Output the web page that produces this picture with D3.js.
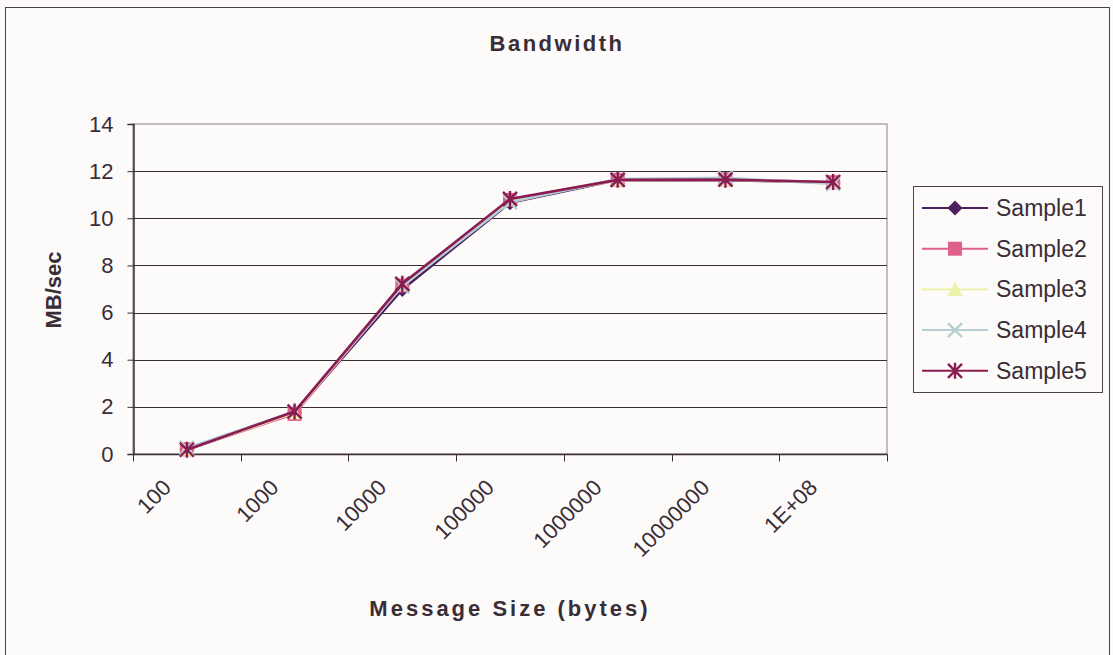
<!DOCTYPE html>
<html>
<head>
<meta charset="utf-8">
<script src="https://cdn.jsdelivr.net/npm/d3@7"></script>
<style>
  html, body { margin: 0; padding: 0; background: #fcfbfa; }
  svg { display: block; font-family: "Liberation Sans", Arial, sans-serif; }
</style>
</head>
<body>
<svg id="chart" width="1113" height="655"></svg>
<script>
// Message sizes (category labels) and measured bandwidth per sample run
const categories = ["100", "1000", "10000", "100000", "1000000", "10000000", "1E+08"];
const sample1 = [0.18, 1.76, 6.98, 10.66, 11.62, 11.62, 11.52];
const sample2 = [0.20, 1.70, 7.15, 10.78, 11.63, 11.65, 11.53];
const sample3 = [0.20, 1.75, 7.18, 10.78, 11.62, 11.64, 11.52];
const sample4 = [0.26, 1.80, 7.12, 10.68, 11.66, 11.72, 11.46];
const sample5 = [0.18, 1.80, 7.22, 10.82, 11.63, 11.64, 11.54];
const seriesNames = ["Sample1", "Sample2", "Sample3", "Sample4", "Sample5"];
const yTicks = [0, 2, 4, 6, 8, 10, 12, 14];

const series = [
  { name: seriesNames[0], values: sample1, color: "#4e1f5e", symbol: "diamond" },
  { name: seriesNames[1], values: sample2, color: "#e0608c", symbol: "square" },
  { name: seriesNames[2], values: sample3, color: "#eef2a6", symbol: "triangle" },
  { name: seriesNames[3], values: sample4, color: "#b4ced2", symbol: "x" },
  { name: seriesNames[4], values: sample5, color: "#8a1c52", symbol: "star" }
];

const svg = d3.select("#chart");
const W = 1113, H = 655;
const plot = { left: 133, top: 124, right: 887, bottom: 454 };
const ink = "#3a2d36";
const labelFont = "22px";

// Outer chart frame
svg.append("rect").attr("x", 5.5).attr("y", 7.5).attr("width", W - 9).attr("height", H)
  .attr("fill", "#fcfbfa").attr("stroke", "#4a4448").attr("stroke-width", 1);

const x = d3.scaleBand().domain(categories).range([plot.left, plot.right]).paddingInner(0).paddingOuter(0);
const y = d3.scaleLinear().domain([0, 14]).range([plot.bottom, plot.top]);
const cx = c => x(c) + x.bandwidth() / 2;

// Plot area frame (top/right in grey)
svg.append("rect").attr("x", plot.left).attr("y", plot.top)
  .attr("width", plot.right - plot.left).attr("height", plot.bottom - plot.top)
  .attr("fill", "#fcfbfa").attr("stroke", "#9a9396").attr("stroke-width", 1.2);

// Horizontal gridlines
svg.append("g").selectAll("line").data(yTicks.filter(d => d > 0 && d < 14)).join("line")
  .attr("x1", plot.left).attr("x2", plot.right)
  .attr("y1", d => Math.round(y(d)) + 0.5).attr("y2", d => Math.round(y(d)) + 0.5)
  .attr("stroke", ink).attr("stroke-width", 1);

// Y axis
const yAxis = svg.append("g").attr("transform", `translate(${plot.left + 0.5},0)`)
  .call(d3.axisLeft(y).tickValues(yTicks).tickSize(6).tickPadding(14).tickFormat(d3.format("d")));
yAxis.select(".domain").attr("stroke", ink).attr("stroke-width", 1.5);
yAxis.selectAll(".tick line").attr("stroke", ink);
yAxis.selectAll(".tick text").attr("fill", ink).style("font-size", labelFont)
  .style("font-family", "'Liberation Sans', Arial, sans-serif");

// X axis: ticks at category boundaries, labels centered per category
const xAxisG = svg.append("g").attr("transform", `translate(0,${plot.bottom + 0.5})`);
const boundaries = categories.map(c => x(c)).concat([plot.right]);
xAxisG.append("line").attr("x1", plot.left).attr("x2", plot.right + 0.5).attr("y1", 0).attr("y2", 0)
  .attr("stroke", ink).attr("stroke-width", 1.5);
xAxisG.selectAll("line.tk").data(boundaries).join("line").attr("class", "tk")
  .attr("x1", d => Math.round(d) + 0.5).attr("x2", d => Math.round(d) + 0.5).attr("y1", 0).attr("y2", 7)
  .attr("stroke", ink);
xAxisG.selectAll("text").data(categories).join("text")
  .attr("transform", d => `translate(${cx(d) - 20},${29}) rotate(-45)`)
  .attr("text-anchor", "end").attr("dy", "0.35em")
  .attr("fill", ink).style("font-size", labelFont).text(d => d);

// Symbols
function drawSymbol(g, type, color, px, py) {
  const s = g.append("g").attr("transform", `translate(${px},${py})`);
  if (type === "diamond") {
    s.append("path").attr("d", "M0,-7.5L7.5,0L0,7.5L-7.5,0Z").attr("fill", color);
  } else if (type === "square") {
    s.append("rect").attr("x", -7).attr("y", -7).attr("width", 14).attr("height", 14).attr("fill", color);
  } else if (type === "triangle") {
    s.append("path").attr("d", "M0,-7.5L7.5,6.5L-7.5,6.5Z").attr("fill", color);
  } else if (type === "x") {
    s.append("path").attr("d", "M-7,-7L7,7M7,-7L-7,7").attr("stroke", color).attr("stroke-width", 2.2);
  } else if (type === "star") {
    s.append("path").attr("d", "M-7,-7L7,7M7,-7L-7,7M0,-8L0,8").attr("stroke", color).attr("stroke-width", 2.4);
  }
}

const line = d3.line().x((d, i) => cx(categories[i])).y(d => y(d));
const seriesG = svg.append("g");
series.forEach(s => {
  seriesG.append("path").datum(s.values).attr("d", line)
    .attr("fill", "none").attr("stroke", s.color).attr("stroke-width", 2.6);
  s.values.forEach((v, i) => drawSymbol(seriesG, s.symbol, s.color, cx(categories[i]), y(v)));
});

// Title and axis titles
svg.append("text").attr("x", 557).attr("y", 51).attr("text-anchor", "middle")
  .attr("fill", ink).style("font-size", "22px").style("font-weight", "bold").style("letter-spacing", "2.5px")
  .text("Bandwidth");
svg.append("text").attr("x", 510).attr("y", 616).attr("text-anchor", "middle")
  .attr("fill", ink).style("font-size", "22px").style("font-weight", "bold").style("letter-spacing", "3px")
  .text("Message Size (bytes)");
svg.append("text").attr("transform", "translate(61,290) rotate(-90)").attr("text-anchor", "middle")
  .attr("fill", ink).style("font-size", "22px").style("font-weight", "bold")
  .text("MB/sec");

// Legend
const legend = svg.append("g");
legend.append("rect").attr("x", 913.5).attr("y", 186.5).attr("width", 189).attr("height", 206)
  .attr("fill", "#fcfbfa").attr("stroke", "#4a4448").attr("stroke-width", 1);
series.forEach((s, i) => {
  const ly = 208 + i * 40.7;
  legend.append("line").attr("x1", 922).attr("x2", 988).attr("y1", ly).attr("y2", ly)
    .attr("stroke", s.color).attr("stroke-width", 2);
  drawSymbol(legend, s.symbol, s.color, 955, ly);
  legend.append("text").attr("x", 996).attr("y", ly).attr("dy", "0.35em")
    .attr("fill", ink).style("font-size", "23px").text(s.name);
});
</script>
</body>
</html>
